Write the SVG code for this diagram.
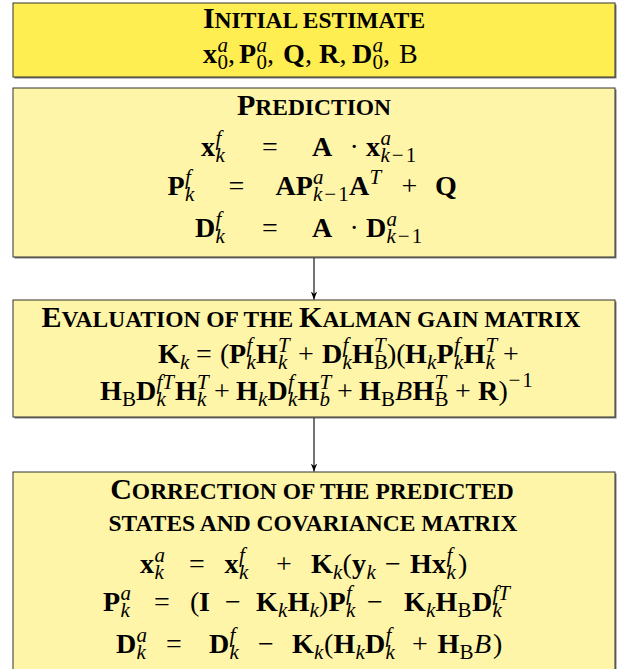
<svg xmlns="http://www.w3.org/2000/svg" width="619" height="669" viewBox="0 0 619 669">
<style>
text{font-family:"Liberation Serif","Times New Roman",serif;fill:#000}
.ttl{font-weight:bold;text-anchor:middle}
.L{font-size:30px}
.S{font-size:23.5px}
.m{font-size:28px}
.b{font-weight:bold}
.it{font-style:italic}
.s{font-size:21px;font-style:italic}
.r{font-style:normal}
.ls{letter-spacing:2px}
.sh{fill:#7a7a7a}
.box{stroke:#333;stroke-width:1}
.y1{fill:#FFEE52}
.y2{fill:#FFF5A8}
.conn line{stroke:#000;stroke-width:1.1}
</style>
<defs>
<marker id="ah" viewBox="0 0 10 10" refX="10" refY="5" markerWidth="8" markerHeight="8" orient="auto" markerUnits="userSpaceOnUse"><path d="M0,1 L10,5 L0,9 L3,5 z" fill="#000"/></marker>
</defs>

<g id="initial">
<rect class="sh" x="14.5" y="4.5" width="602" height="74"/>
<rect class="box y1" x="13" y="3" width="602" height="74"/>
<text class="ttl" x="314" y="28"><tspan class="L">I</tspan><tspan class="S">NITIAL ESTIMATE</tspan></text>
<text class="m"><tspan class="b" x="203" y="63">x</tspan><tspan class="s" x="217.5" y="52">a</tspan><tspan class="s r" x="217.5" y="69">0</tspan><tspan x="228" y="63">,</tspan><tspan class="b" x="239" y="63">P</tspan><tspan class="s" x="256.5" y="52">a</tspan><tspan class="s r" x="256.5" y="69">0</tspan><tspan x="267" y="63">,</tspan><tspan class="b" x="283" y="63">Q</tspan><tspan x="305" y="63">,</tspan><tspan class="b" x="319" y="63">R</tspan><tspan x="339.5" y="63">,</tspan><tspan class="b" x="352" y="63">D</tspan><tspan class="s" x="372.5" y="52">a</tspan><tspan class="s r" x="372.5" y="69">0</tspan><tspan x="383" y="63">,</tspan><tspan x="399" y="63">B</tspan></text>
</g>

<g id="prediction">
<rect class="sh" x="14.5" y="89.5" width="602" height="169"/>
<rect class="box y2" x="13" y="88" width="602" height="169"/>
<text class="ttl" x="314" y="115"><tspan class="L">P</tspan><tspan class="S">REDICTION</tspan></text>
<text class="m"><tspan class="b" x="201" y="156">x</tspan><tspan class="s" x="215.5" y="145">f</tspan><tspan class="s" x="215.5" y="162">k</tspan><tspan x="262" y="156">=</tspan><tspan class="b" x="312" y="156">A</tspan><tspan x="349.5" y="156">·</tspan><tspan class="b" x="366" y="156">x</tspan><tspan class="s" x="380.5" y="145">a</tspan><tspan class="s ls" x="380.5" y="162">k<tspan class="r">−1</tspan></tspan></text>
<text class="m"><tspan class="b" x="167.5" y="195">P</tspan><tspan class="s" x="185" y="184">f</tspan><tspan class="s" x="185" y="201">k</tspan><tspan x="228.5" y="195">=</tspan><tspan class="b" x="275.5" y="195">AP</tspan><tspan class="s" x="313" y="184">a</tspan><tspan class="s ls" x="313" y="201">k<tspan class="r">−1</tspan></tspan><tspan class="b" x="349" y="195">A</tspan><tspan class="s" x="369.5" y="184">T</tspan><tspan x="401.5" y="195">+</tspan><tspan class="b" x="435" y="195">Q</tspan></text>
<text class="m"><tspan class="b" x="195" y="237">D</tspan><tspan class="s" x="215.5" y="226">f</tspan><tspan class="s" x="215.5" y="243">k</tspan><tspan x="262" y="237">=</tspan><tspan class="b" x="312" y="237">A</tspan><tspan x="349.5" y="237">·</tspan><tspan class="b" x="366" y="237">D</tspan><tspan class="s" x="386.5" y="226">a</tspan><tspan class="s ls" x="386.5" y="243">k<tspan class="r">−1</tspan></tspan></text>
</g>

<g id="kalman">
<rect class="sh" x="14.5" y="301.5" width="602" height="117"/>
<rect class="box y2" x="13" y="300" width="602" height="117"/>
<text class="ttl" x="311" y="327"><tspan class="L">E</tspan><tspan class="S">VALUATION OF THE </tspan><tspan class="L">K</tspan><tspan class="S">ALMAN GAIN MATRIX</tspan></text>
<text class="m"><tspan class="b" x="158" y="363">K</tspan><tspan class="s" x="180" y="369">k</tspan><tspan x="196" y="363">=</tspan><tspan x="220" y="363">(</tspan><tspan class="b" x="229" y="363">P</tspan><tspan class="s" x="246.5" y="352">f</tspan><tspan class="s" x="246.5" y="369">k</tspan><tspan class="b" x="256" y="363">H</tspan><tspan class="s" x="278" y="352">T</tspan><tspan class="s" x="278" y="369">k</tspan><tspan x="298" y="363">+</tspan><tspan class="b" x="322" y="363">D</tspan><tspan class="s" x="342.5" y="352">f</tspan><tspan class="s" x="342.5" y="369">k</tspan><tspan class="b" x="352" y="363">H</tspan><tspan class="s" x="374" y="352">T</tspan><tspan class="s r" x="374" y="369">B</tspan><tspan x="387" y="363">)(</tspan><tspan class="b" x="405" y="363">H</tspan><tspan class="s" x="427" y="369">k</tspan><tspan class="b" x="436.5" y="363">P</tspan><tspan class="s" x="454" y="352">f</tspan><tspan class="s" x="454" y="369">k</tspan><tspan class="b" x="463.5" y="363">H</tspan><tspan class="s" x="485.5" y="352">T</tspan><tspan class="s" x="485.5" y="369">k</tspan><tspan x="503" y="363">+</tspan></text>
<text class="m"><tspan class="b" x="100" y="400">H</tspan><tspan class="s r" x="122" y="406">B</tspan><tspan class="b" x="136" y="400">D</tspan><tspan class="s" x="156.5" y="389">fT</tspan><tspan class="s" x="156.5" y="406">k</tspan><tspan class="b" x="175" y="400">H</tspan><tspan class="s" x="197" y="389">T</tspan><tspan class="s" x="197" y="406">k</tspan><tspan x="214" y="400">+</tspan><tspan class="b" x="236" y="400">H</tspan><tspan class="s" x="258" y="406">k</tspan><tspan class="b" x="267.5" y="400">D</tspan><tspan class="s" x="288" y="389">f</tspan><tspan class="s" x="288" y="406">k</tspan><tspan class="b" x="297.5" y="400">H</tspan><tspan class="s" x="319.5" y="389">T</tspan><tspan class="s" x="319.5" y="406">b</tspan><tspan x="337" y="400">+</tspan><tspan class="b" x="359" y="400">H</tspan><tspan class="s r" x="381" y="406">B</tspan><tspan class="it" x="395" y="400">B</tspan><tspan class="b" x="412.5" y="400">H</tspan><tspan class="s" x="434.5" y="389">T</tspan><tspan class="s r" x="434.5" y="406">B</tspan><tspan x="455" y="400">+</tspan><tspan class="b" x="478" y="400">R</tspan><tspan x="498.5" y="400">)</tspan><tspan class="s r ls" x="508.5" y="387">−1</tspan></text>
</g>

<g id="correction">
<rect class="sh" x="14.5" y="473.5" width="602" height="210"/>
<rect class="box y2" x="13" y="472" width="602" height="210"/>
<text class="ttl" x="312" y="499"><tspan class="L">C</tspan><tspan class="S">ORRECTION OF THE PREDICTED</tspan></text>
<text class="ttl" x="313" y="531"><tspan class="S">STATES AND COVARIANCE MATRIX</tspan></text>
<text class="m"><tspan class="b" x="140" y="573">x</tspan><tspan class="s" x="154.5" y="562">a</tspan><tspan class="s" x="154.5" y="579">k</tspan><tspan x="189" y="573">=</tspan><tspan class="b" x="224.5" y="573">x</tspan><tspan class="s" x="239" y="562">f</tspan><tspan class="s" x="239" y="579">k</tspan><tspan x="276" y="573">+</tspan><tspan class="b" x="311" y="573">K</tspan><tspan class="s" x="333" y="579">k</tspan><tspan x="342.5" y="573">(</tspan><tspan class="b" x="352" y="573">y</tspan><tspan class="s" x="366.5" y="579">k</tspan><tspan x="385" y="573">−</tspan><tspan class="b" x="410" y="573">H</tspan><tspan class="b" x="432" y="573">x</tspan><tspan class="s" x="446.5" y="562">f</tspan><tspan class="s" x="446.5" y="579">k</tspan><tspan x="458" y="573">)</tspan></text>
<text class="m"><tspan class="b" x="103" y="611">P</tspan><tspan class="s" x="120.5" y="600">a</tspan><tspan class="s" x="120.5" y="617">k</tspan><tspan x="154" y="611">=</tspan><tspan x="190" y="611">(</tspan><tspan class="b" x="199" y="611">I</tspan><tspan x="225" y="611">−</tspan><tspan class="b" x="256" y="611">K</tspan><tspan class="s" x="278" y="617">k</tspan><tspan class="b" x="287.5" y="611">H</tspan><tspan class="s" x="309.5" y="617">k</tspan><tspan x="319" y="611">)</tspan><tspan class="b" x="328.5" y="611">P</tspan><tspan class="s" x="346" y="600">f</tspan><tspan class="s" x="346" y="617">k</tspan><tspan x="367" y="611">−</tspan><tspan class="b" x="404" y="611">K</tspan><tspan class="s" x="426" y="617">k</tspan><tspan class="b" x="435.5" y="611">H</tspan><tspan class="s r" x="457.5" y="617">B</tspan><tspan class="b" x="472" y="611">D</tspan><tspan class="s" x="492.5" y="600">fT</tspan><tspan class="s" x="492.5" y="617">k</tspan></text>
<text class="m"><tspan class="b" x="116" y="653">D</tspan><tspan class="s" x="136.5" y="642">a</tspan><tspan class="s" x="136.5" y="659">k</tspan><tspan x="166" y="653">=</tspan><tspan class="b" x="209" y="653">D</tspan><tspan class="s" x="229.5" y="642">f</tspan><tspan class="s" x="229.5" y="659">k</tspan><tspan x="258" y="653">−</tspan><tspan class="b" x="292" y="653">K</tspan><tspan class="s" x="314" y="659">k</tspan><tspan x="324" y="653">(</tspan><tspan class="b" x="333.5" y="653">H</tspan><tspan class="s" x="355.5" y="659">k</tspan><tspan class="b" x="365" y="653">D</tspan><tspan class="s" x="385.5" y="642">f</tspan><tspan class="s" x="385.5" y="659">k</tspan><tspan x="412" y="653">+</tspan><tspan class="b" x="437.5" y="653">H</tspan><tspan class="s r" x="459.5" y="659">B</tspan><tspan class="it" x="474" y="653">B</tspan><tspan x="493" y="653">)</tspan></text>
</g>

<g id="connectors" class="conn">
<line x1="314" y1="258" x2="314" y2="299.5" marker-end="url(#ah)"/>
<line x1="314" y1="418" x2="314" y2="471.5" marker-end="url(#ah)"/>
</g>
</svg>
